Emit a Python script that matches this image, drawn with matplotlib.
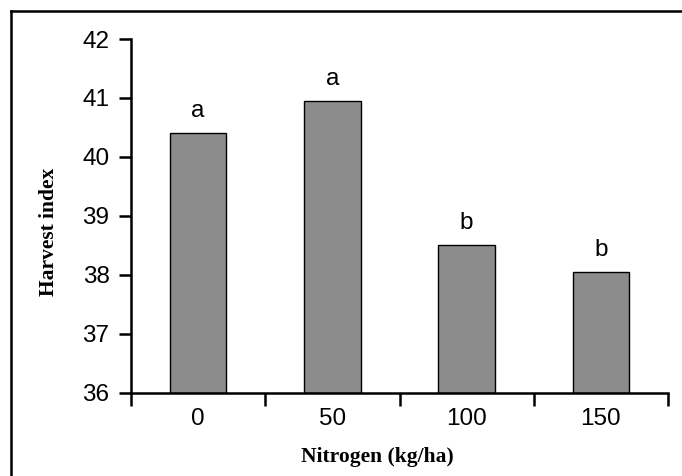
import matplotlib
matplotlib.use("Agg")
from matplotlib import pyplot as plt
import numpy as np

# data
nitrogen = ['0', '50', '100', '150']
harvest_index = [40.4, 40.94, 38.5, 38.04]
letters = ['a', 'a', 'b', 'b']

fig = plt.figure(figsize=(6.82, 4.76), dpi=100)
ax = fig.add_axes([131/682, 1-392.7/476, (668-131)/682, (392.7-39)/476])

x = np.arange(len(nitrogen))
ax.bar(x, np.array(harvest_index) - 36, bottom=36, width=0.42,
       color='#8c8c8c', edgecolor='black', linewidth=1)

for xi, v, l in zip(x, harvest_index, letters):
    ax.text(xi, v + 0.2, l, ha='center', va='bottom',
            family='Liberation Sans', fontsize=17.5)

ax.set_xlim(-0.5, 3.5)
ax.set_ylim(36, 42)

ax.spines['top'].set_visible(False)
ax.spines['right'].set_visible(False)
for s in ['left', 'bottom']:
    ax.spines[s].set_linewidth(1.8)

# boundary ticks, labels sit between them
ax.set_xticks(np.arange(-0.5, 4, 1))
ax.set_xticklabels([])
ax.set_xticks(x, minor=True)
ax.set_xticklabels(nitrogen, minor=True, family='Liberation Sans', fontsize=17.5)
ax.tick_params(axis='x', which='major', direction='out', length=9.5, width=1.8)
ax.tick_params(axis='x', which='minor', length=0, pad=11)

ax.set_yticks(np.arange(36, 43, 1))
ax.set_yticklabels([str(v) for v in range(36, 43)], family='Liberation Sans', fontsize=17.5)
ax.tick_params(axis='y', direction='out', length=9, width=1.8, pad=6.5)

ax.set_xlabel('Nitrogen (kg/ha)', family='Liberation Serif', fontweight='bold',
              fontsize=15.5)
ax.xaxis.set_label_coords(0.458, -0.153)
ax.set_ylabel('Harvest index', family='Liberation Serif', fontweight='bold',
              fontsize=15.5)
ax.yaxis.set_label_coords(-0.134, 0.456)

# frame around the figure (only top and left visible in the original crop)
fig.add_artist(plt.Line2D([11/682, 1], [1-11/476, 1-11/476], color='black',
                          linewidth=1.8, transform=fig.transFigure))
fig.add_artist(plt.Line2D([11/682, 11/682], [0, 1-11/476], color='black',
                          linewidth=1.8, transform=fig.transFigure))

plt.savefig('out.png', dpi=100)
